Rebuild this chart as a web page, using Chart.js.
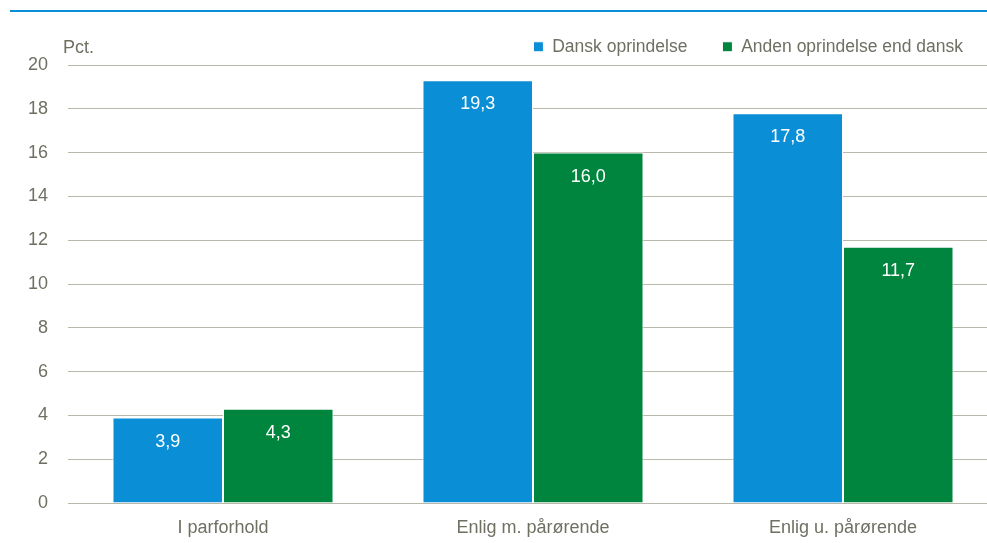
<!DOCTYPE html>
<html>
<head>
<meta charset="utf-8">
<script src="https://cdn.jsdelivr.net/npm/chart.js@4/dist/chart.umd.min.js"></script>
<style>
  body { margin: 0; background: #fff; overflow: hidden; }
  #wrap { position: relative; width: 998px; height: 543px; }
  #topline { position: absolute; left: 10px; top: 10px; width: 990px; height: 2px; background: #0a8fd6; }
</style>
</head>
<body>
<div id="wrap">
  <div id="topline"></div>
  <canvas id="chart" width="998" height="543"></canvas>
</div>
<script>
// data
const categories = ['I parforhold', 'Enlig m. pårørende', 'Enlig u. pårørende'];
const seriesNames = ['Dansk oprindelse', 'Anden oprindelse end dansk'];
const danskValues = [3.9, 19.3, 17.8];
const andenValues = [4.3, 16.0, 11.7];
const yTicks = [0, 2, 4, 6, 8, 10, 12, 14, 16, 18, 20];
const unitLabel = 'Pct.';

const textColor = '#6f6f62';
const fontFamily = '"Liberation Sans", Arial, sans-serif';

// legend: wide spacing between items but a compact box height
const legendHeight = {
  id: 'legendHeight',
  beforeInit(chart) {
    const origFit = chart.legend.fit;
    chart.legend.fit = function () {
      origFit.call(this);
      this.height = 62;
    };
  }
};

// white value labels at the top inside each bar
const barLabels = {
  id: 'barLabels',
  afterDatasetsDraw(chart) {
    const ctx = chart.ctx;
    ctx.save();
    ctx.fillStyle = '#fff';
    ctx.font = '18px ' + fontFamily;
    ctx.textAlign = 'center';
    ctx.textBaseline = 'middle';
    chart.data.datasets.forEach((ds, i) => {
      chart.getDatasetMeta(i).data.forEach((bar, j) => {
        const txt = ds.data[j].toFixed(1).replace('.', ',');
        ctx.fillText(txt, bar.x, bar.y + 24);
      });
    });
    ctx.restore();
  }
};

// "Pct." above the y axis
const unitText = {
  id: 'unitText',
  afterDraw(chart) {
    const ctx = chart.ctx;
    ctx.save();
    ctx.fillStyle = textColor;
    ctx.font = '18px ' + fontFamily;
    ctx.textAlign = 'left';
    ctx.textBaseline = 'middle';
    ctx.fillText(unitLabel, chart.chartArea.left - 5, 48);
    ctx.restore();
  }
};

const ctx = document.getElementById('chart').getContext('2d');
const chart = new Chart(ctx, {
  type: 'bar',
  data: {
    labels: categories,
    datasets: [
      {
        label: seriesNames[0],
        data: danskValues,
        backgroundColor: '#0a8fd6',
        borderColor: '#ffffff',
        borderWidth: 1
      },
      {
        label: seriesNames[1],
        data: andenValues,
        backgroundColor: '#00853e',
        borderColor: '#ffffff',
        borderWidth: 1
      }
    ]
  },
  options: {
    responsive: false,
    animation: false,
    layout: { padding: { top: 3, right: 0, bottom: 0, left: 0 } },
    datasets: {
      bar: { categoryPercentage: 0.713, barPercentage: 1.0 }
    },
    plugins: {
      legend: {
        position: 'top',
        align: 'end',
        labels: {
          boxWidth: 10,
          boxHeight: 10,
          padding: 35,
          color: textColor,
          font: { family: fontFamily, size: 17.5 }
        }
      },
      tooltip: { enabled: false }
    },
    scales: {
      x: {
        afterFit(scale) { scale.height = 40; },
        grid: { display: false, drawTicks: false },
        border: { display: false },
        ticks: {
          color: textColor,
          padding: 14,
          font: { family: fontFamily, size: 18 }
        }
      },
      y: {
        min: 0,
        max: 20,
        afterFit(scale) { scale.width = 68; },
        afterBuildTicks(scale) { scale.ticks = yTicks.map(v => ({ value: v })); },
        grid: { color: '#b9b8ab', lineWidth: 1, drawTicks: false },
        border: { display: false },
        ticks: {
          color: textColor,
          padding: 20,
          font: { family: fontFamily, size: 18 }
        }
      }
    }
  },
  plugins: [legendHeight, barLabels, unitText]
});
</script>
</body>
</html>
